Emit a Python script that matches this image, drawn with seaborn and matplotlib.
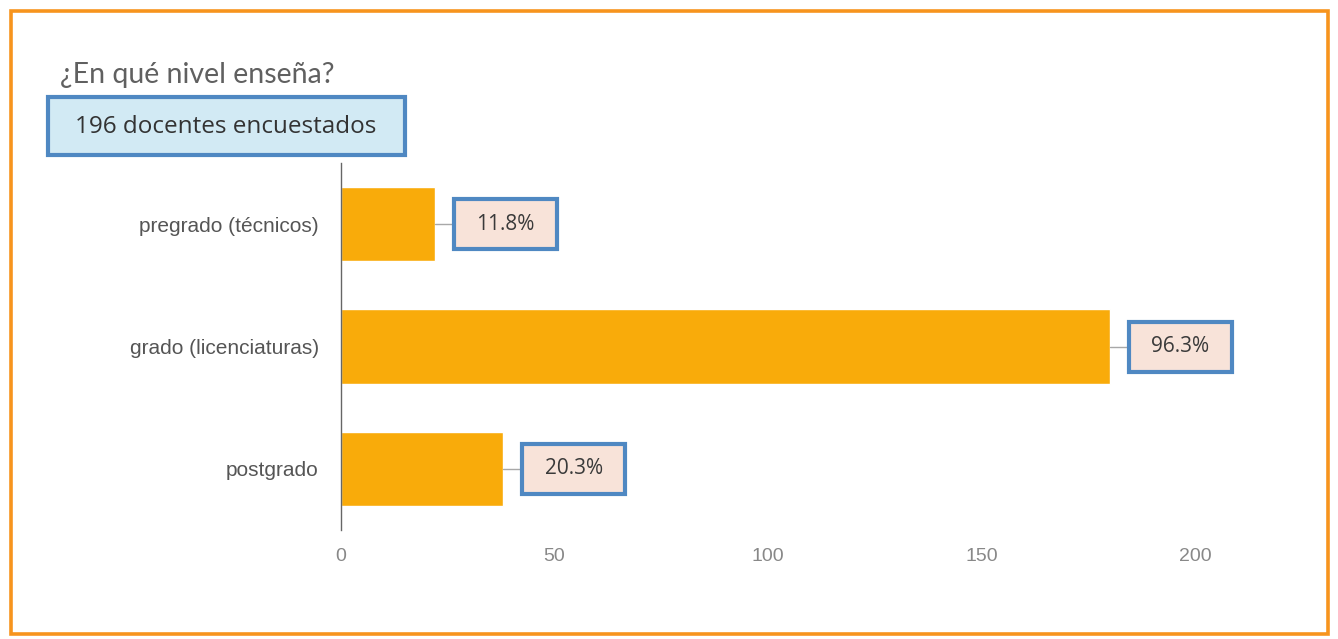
import matplotlib
matplotlib.use("Agg")
import matplotlib.pyplot as plt
import matplotlib.patches as mpatches
import seaborn as sns
import pandas as pd

# ---- data ----
categories = ["pregrado (técnicos)", "grado (licenciaturas)", "postgrado"]
counts = [22, 180, 38]
pct_labels = ["11.8%", "96.3%", "20.3%"]
x_ticks = [0, 50, 100, 150, 200]
title = "¿En qué nivel enseña?"
subtitle = "196 docentes encuestados"

W, H = 1338, 639
sns.set_theme(style="white")
plt.rcParams["font.family"] = ["Liberation Sans", "DejaVu Sans"]

fig = plt.figure(figsize=(W / 100, H / 100), dpi=100)
fig.patch.set_facecolor("white")

def fx(px):
    return px / W

def fy(py):
    return 1 - py / H

# outer orange frame
fig.patches.append(mpatches.Rectangle((fx(11), fy(634)), fx(1328) - fx(11), fy(11) - fy(634),
                                      transform=fig.transFigure, fill=False,
                                      edgecolor="#F7941D", linewidth=2.6, zorder=0))

ax = fig.add_axes([fx(341), fy(530), fx(1195) - fx(341), fy(163) - fy(530)])
df = pd.DataFrame({"cat": categories, "n": counts})
sns.barplot(data=df, y="cat", x="n", orient="h", color="#F9AB0A", saturation=1,
            width=0.61, ax=ax)
ax.set_xlim(0, 200)
ax.set_ylim(2.5, -0.5)
ax.set_xticks(x_ticks)
ax.set_xticklabels([str(t) for t in x_ticks])
ax.set_xlabel("")
ax.set_ylabel("")
for s in ["top", "right", "bottom"]:
    ax.spines[s].set_visible(False)
ax.spines["left"].set_color("#666666")
ax.spines["left"].set_linewidth(1.0)
ax.tick_params(axis="y", length=0, pad=16, labelsize=15, labelcolor="#555555")
ax.tick_params(axis="x", length=0, pad=13, labelsize=14, labelcolor="#888888")
ax.grid(False)
ax.set_facecolor("white")

# value label boxes
fig.canvas.draw()
inv = ax.transData.inverted()
box_w, box_h, gap = 103, 50, 19
for i, (v, lab) in enumerate(zip(counts, pct_labels)):
    x0, y0 = ax.transData.transform((v, i))
    (dx0, dy0) = inv.transform((x0, y0))
    (dx1, dy1) = inv.transform((x0 + gap, y0))
    ax.plot([dx0, dx1], [dy0, dy1], color="#A8A8A8", linewidth=1, clip_on=False, zorder=3)
    (bx0, by0) = inv.transform((x0 + gap, y0 - box_h / 2))
    (bx1, by1) = inv.transform((x0 + gap + box_w, y0 + box_h / 2))
    ax.add_patch(mpatches.Rectangle((bx0, by0), bx1 - bx0, by1 - by0,
                                    facecolor="#F8E3D9", edgecolor="#4F88C2",
                                    linewidth=3, clip_on=False, zorder=4))
    ax.text((bx0 + bx1) / 2, i, lab, ha="center", va="center", fontsize=15,
            color="#3A3A3A", family=["Open Sans", "DejaVu Sans"], zorder=5)

# title
fig.text(fx(60), fy(75), title, ha="left", va="center", fontsize=20.5,
         color="#606060", family=["Lato", "DejaVu Sans"])

# subtitle box
fig.patches.append(mpatches.Rectangle((fx(48), fy(155)), fx(405) - fx(48), fy(97) - fy(155),
                                      transform=fig.transFigure, facecolor="#D2EAF4",
                                      edgecolor="#4F88C2", linewidth=3, zorder=1))
fig.text(fx(226), fy(127), subtitle, ha="center", va="center", fontsize=17.5,
         color="#333333", family=["Open Sans", "DejaVu Sans"], zorder=2)

fig.savefig("out.png", dpi=100, facecolor="white")
